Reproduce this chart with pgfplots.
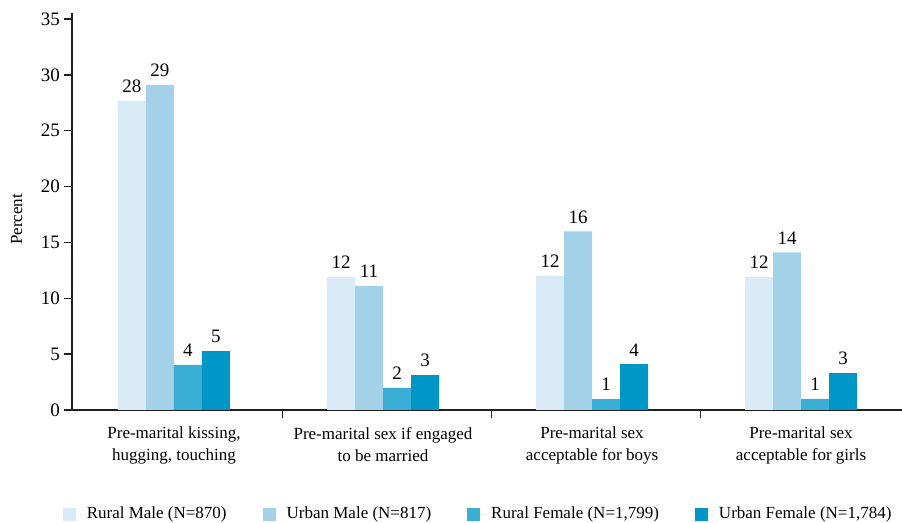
\documentclass[border=0pt]{standalone}
\usepackage{pgfplots}
\pgfplotsset{compat=1.18}
\usepackage{fontspec}
\setmainfont{Liberation Serif}
\definecolor{rm}{HTML}{D8EBF6}
\definecolor{um}{HTML}{A2D1E8}
\definecolor{rf}{HTML}{3BAED6}
\definecolor{uf}{HTML}{0096C6}
\definecolor{axc}{HTML}{231F20}
\begin{document}
\begin{tikzpicture}
\useasboundingbox (-36pt,-56.5pt) rectangle (415pt,205pt);
\begin{axis}[
  scale only axis,
  width=415pt, height=198.5pt,
  ymin=0, ymax=35.54,
  xmin=-0.488, xmax=3.483,
  ybar=0pt, bar width=14pt,
  axis x line*=bottom, axis y line*=left,
  axis line style={axc, line width=0.7pt},
  tick align=outside,
  major tick length=4pt,
  tick style={axc, line width=0.7pt},
  ytick={0,5,...,35},
  xtick={0,1,2,3},
  xticklabels={{Pre-marital kissing,\\hugging, touching},{Pre-marital sex if engaged\\to be married},{Pre-marital sex\\acceptable for boys},{Pre-marital sex\\acceptable for girls}},
  xtick style={draw=none},
  extra x ticks={0.52,1.52,2.52},
  extra x tick labels={},
  extra x tick style={xtick style={draw=axc}},
  x tick label style={align=center, font=\fontsize{8.5}{11}\selectfont, yshift=-1pt},
  y tick label style={font=\fontsize{9.5}{11}\selectfont, xshift=1.5pt},
  /pgf/number format/assume math mode=true,
  ylabel={Percent},
  ylabel style={font=\fontsize{8.5}{10}\selectfont, yshift=2.5pt, xshift=-4pt},
  every node near coord/.append style={font=\fontsize{9.5}{11}\selectfont, yshift=0.5pt},
  nodes near coords={\pgfmathprintnumber[fixed,precision=0]{\pgfplotspointmeta}},
  legend columns=4,
  legend style={draw=none, at={(0.4905,-0.262)}, anchor=center,
    font=\fontsize{8.5}{10}\selectfont,
    /tikz/every even column/.append style={column sep=16pt}},
  legend image code/.code={\fill[#1] (0pt,-3.25pt) rectangle (6.5pt,3.25pt); \path (0pt,0pt) -- (10pt,0pt);},
]
\addplot[fill=rm, draw=none] coordinates {(0,27.7) (1,11.9) (2,12.0) (3,11.9)};
\addplot[fill=um, draw=none] coordinates {(0,29.1) (1,11.1) (2,16.0) (3,14.1)};
\addplot[fill=rf, draw=none] coordinates {(0,4.03) (1,1.97) (2,0.98) (3,1.0)};
\addplot[fill=uf, draw=none] coordinates {(0,5.28) (1,3.13) (2,4.1) (3,3.3)};
\legend{{Rural Male (N=870)},{Urban Male (N=817)},{Rural Female (N=1,799)},{Urban Female (N=1,784)}}
\end{axis}
\end{tikzpicture}
\end{document}
